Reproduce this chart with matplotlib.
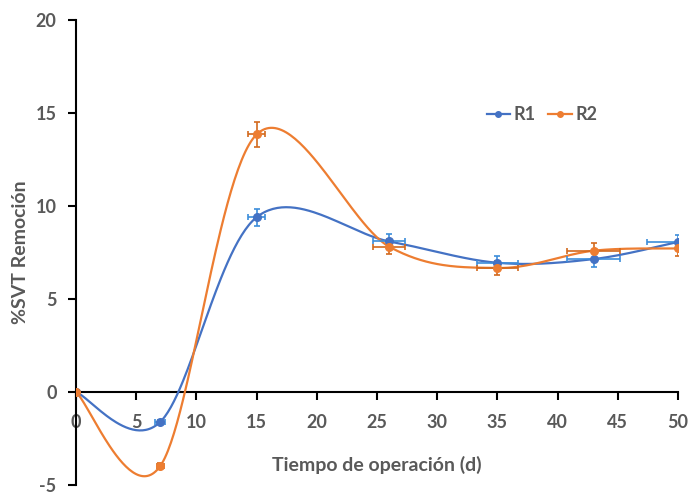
import numpy as np
import matplotlib
matplotlib.use("Agg")
import matplotlib.pyplot as plt
from matplotlib.lines import Line2D

# Datos
dias = [0, 7, 15, 26, 35, 43, 50]
r1 = [0, -1.6, 9.4, 8.1, 6.95, 7.15, 8.07]
r2 = [0, -3.97, 13.85, 7.82, 6.67, 7.6, 7.72]
r1_yerr = [0, 0.1, 0.45, 0.4, 0.35, 0.4, 0.4]
r2_yerr = [0, 0.15, 0.65, 0.4, 0.35, 0.4, 0.4]
r1_xerr = [0, 0.4, 0.7, 1.3, 1.7, 2.2, 2.6]
r2_xerr = [0, 0.3, 0.7, 1.3, 1.7, 2.2, 0]

gris = "#595959"
plt.rcParams['font.family'] = ['Lato', 'DejaVu Sans']
plt.rcParams['axes.unicode_minus'] = False


def suavizar(x, y, n=60):
    # curva tipo Excel (Catmull-Rom en forma de Bezier)
    x = np.asarray(x, float)
    y = np.asarray(y, float)
    px = np.concatenate([[x[0]], x, [x[-1]]])
    py = np.concatenate([[y[0]], y, [y[-1]]])
    xs, ys = [], []
    t = np.linspace(0, 1, n)
    for i in range(1, len(px) - 2):
        p0 = np.array([px[i], py[i]])
        p3 = np.array([px[i + 1], py[i + 1]])
        c1 = p0 + (np.array([px[i + 1], py[i + 1]]) - np.array([px[i - 1], py[i - 1]])) / 6
        c2 = p3 - (np.array([px[i + 2], py[i + 2]]) - np.array([px[i], py[i]])) / 6
        b = ((1 - t) ** 3)[:, None] * p0 + (3 * (1 - t) ** 2 * t)[:, None] * c1 \
            + (3 * (1 - t) * t ** 2)[:, None] * c2 + (t ** 3)[:, None] * p3
        xs.append(b[:, 0])
        ys.append(b[:, 1])
    return np.concatenate(xs), np.concatenate(ys)


fig = plt.figure(figsize=(6.88, 4.95), dpi=100)
ax = fig.add_axes([0.1105, 0.02, 0.875, 0.9396])

series = [
    (r1, r1_xerr, r1_yerr, "#4472C4", "#3C8DDA", "R1"),
    (r2, r2_xerr, r2_yerr, "#ED7D31", "#D2691E", "R2"),
]
handles = []
for vals, xe, ye, col, ecol, nombre in series:
    sx, sy = suavizar(dias, vals)
    ax.plot(sx, sy, color=col, lw=1.6, zorder=3)
    ax.errorbar(dias, vals, xerr=xe, yerr=ye, fmt='none', ecolor=ecol,
                elinewidth=1.2, capsize=2.5, capthick=1.2, zorder=4)
    ax.plot(dias, vals, 'o', color=col, ms=5.5, zorder=5)
    handles.append(Line2D([], [], color=col, lw=1.6, marker='o', ms=4, label=nombre))

ax.set_xlim(0, 50)
ax.set_ylim(-5, 20)
ax.set_xticks(range(0, 51, 5))
ax.set_yticks(range(-5, 21, 5))

for s in ['top', 'right']:
    ax.spines[s].set_visible(False)
ax.spines['bottom'].set_position(('data', 0))
ax.spines['left'].set_position(('data', 0))
for s in ['bottom', 'left']:
    ax.spines[s].set_linewidth(1.5)
    ax.spines[s].set_color('black')

ax.tick_params(axis='both', direction='out', length=6, width=1.5, colors='black',
               labelcolor=gris, labelsize=13)
ax.tick_params(axis='x', pad=10)
ax.tick_params(axis='y', pad=8)
for lab in ax.get_xticklabels() + ax.get_yticklabels():
    lab.set_fontweight('bold')

ax.set_ylabel("%SVT Remoción", fontsize=14, fontweight='bold', color=gris)
ax.yaxis.set_label_coords(-0.078, 0.5)
ax.set_xlabel("Tiempo de operación (d)", fontsize=14, fontweight='bold', color=gris)
ax.xaxis.set_label_coords(0.5, 0.062)

ax.legend(handles=handles, loc='center', bbox_to_anchor=(0.774, 0.797), ncol=2,
          frameon=False, handlelength=1.3, columnspacing=0.7, handletextpad=0.2,
          prop={'weight': 'bold', 'size': 13}, labelcolor=gris)

fig.savefig("out.png", dpi=100)
